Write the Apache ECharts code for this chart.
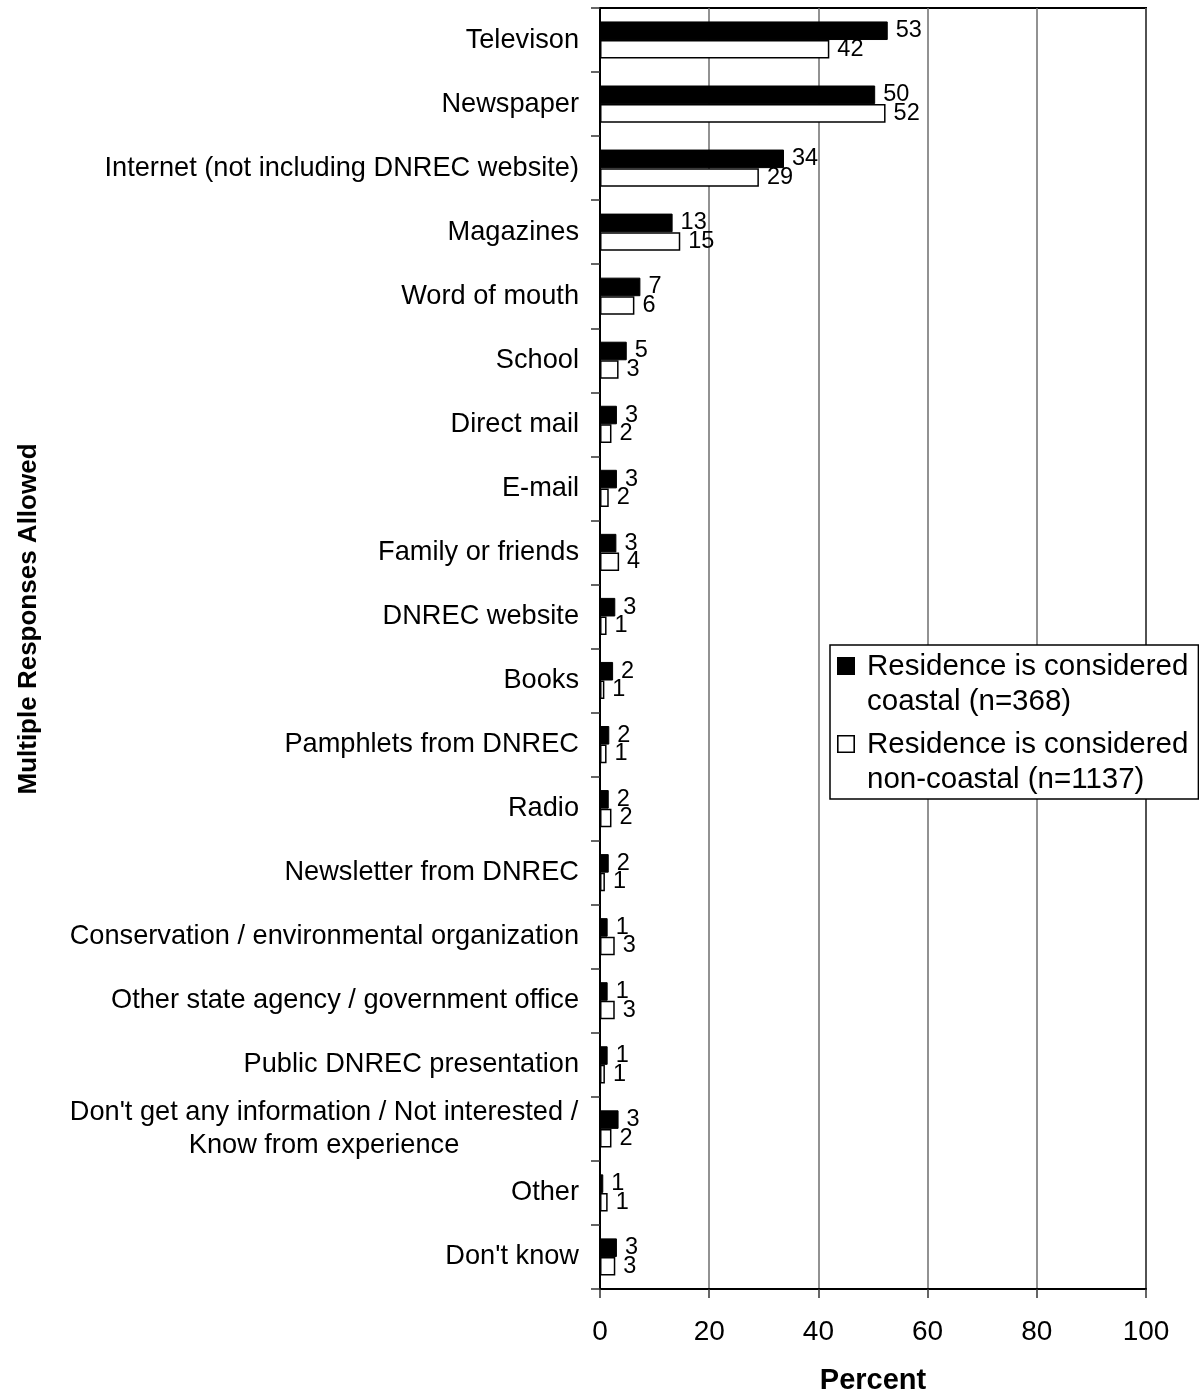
<!DOCTYPE html>
<html>
<head>
<meta charset="utf-8">
<script src="https://cdn.jsdelivr.net/npm/echarts@6/dist/echarts.min.js"></script>
<style>
  html, body { margin: 0; padding: 0; background: #fff; }
  #chart { width: 1199px; height: 1395px; }
</style>
</head>
<body>
<div id="chart"></div>
<script>
const categories = [
  "Televison",
  "Newspaper",
  "Internet (not including DNREC website)",
  "Magazines",
  "Word of mouth",
  "School",
  "Direct mail",
  "E-mail",
  "Family or friends",
  "DNREC website",
  "Books",
  "Pamphlets from DNREC",
  "Radio",
  "Newsletter from DNREC",
  "Conservation / environmental organization",
  "Other state agency / government office",
  "Public DNREC presentation",
  "Don't get any information / Not interested /\nKnow from experience",
  "Other",
  "Don't know"
];

// percent (labels are the rounded values)
const coastal = [52.7, 50.4, 33.7, 13.3, 7.4, 4.9, 3.1, 3.1, 3.0, 2.8, 2.4, 1.7, 1.6, 1.6, 1.4, 1.4, 1.4, 3.4, 0.6, 3.1];
const nonCoastal = [42.0, 52.3, 29.1, 14.7, 6.3, 3.4, 2.1, 1.6, 3.5, 1.2, 0.8, 1.2, 2.1, 0.9, 2.7, 2.7, 0.9, 2.1, 1.4, 2.8];

const seriesNames = [
  "Residence is considered\ncoastal (n=368)",
  "Residence is considered\nnon-coastal (n=1137)"
];

const xTicks = [0, 20, 40, 60, 80, 100];

const font = '"Liberation Sans", Arial, Helvetica, sans-serif';

// legend squares sit on the first text line (tiny corner points stretch the box)
const iconFilled = "path://M0,8H18V26H0Z M0,0H0.01V0.01H0Z M0,69.99H0.01V70H0Z";
const iconHollow = "path://M0,8H18V26H0Z M1.6,9.6V24.4H16.4V9.6Z M0,0H0.01V0.01H0Z M0,69.99H0.01V70H0Z";

var chart = echarts.init(document.getElementById("chart"));

const barLabel = {
  show: true,
  position: "right",
  distance: 8,
  color: "#000",
  fontSize: 23.5,
  fontFamily: font,
  formatter: function (p) { return Math.round(p.value); }
};

var option = {
  animation: false,
  backgroundColor: "#fff",
  textStyle: { fontFamily: font },
  grid: {
    left: 600,
    right: 53,
    top: 8,
    bottom: 106,
    containLabel: false,
    outerBoundsMode: "none",
    show: true,
    borderColor: "#000",
    borderWidth: 2,
    backgroundColor: "transparent"
  },
  legend: {
    orient: "vertical",
    left: 830,
    top: 645,
    padding: [4, 10, 2, 7],
    itemGap: 8,
    itemWidth: 18,
    itemHeight: 70,
    borderColor: "#000",
    borderWidth: 1.5,
    backgroundColor: "#fff",
    textStyle: {
      fontSize: 29.5,
      lineHeight: 35,
      color: "#000",
      fontFamily: font,
      padding: [0, 0, 0, 7]
    },
    data: [
      { name: seriesNames[0], icon: iconFilled, itemStyle: { color: "#000", borderWidth: 0 } },
      { name: seriesNames[1], icon: iconHollow, itemStyle: { color: "#000", borderWidth: 0 } }
    ]
  },
  xAxis: {
    type: "value",
    min: xTicks[0],
    max: xTicks[xTicks.length - 1],
    interval: 20,
    name: "Percent",
    nameLocation: "middle",
    nameGap: 77,
    nameTextStyle: { fontSize: 29, fontWeight: "bold", color: "#000", fontFamily: font },
    axisLine: { show: true, lineStyle: { color: "#000", width: 2 } },
    axisTick: { show: true, length: 9, lineStyle: { color: "#333", width: 1.5 } },
    axisLabel: { fontSize: 28, color: "#000", margin: 29, fontFamily: font },
    splitLine: { show: true, lineStyle: { color: "#6e6e6e", width: 1.5 } }
  },
  yAxis: {
    type: "category",
    inverse: true,
    data: categories,
    axisLine: { show: true, lineStyle: { color: "#000", width: 2 } },
    axisTick: { show: true, length: 9, lineStyle: { color: "#333", width: 1.5 } },
    axisLabel: {
      interval: 0,
      fontSize: 27.2,
      color: "#000",
      margin: 21,
      fontFamily: font,
      lineHeight: 33,
      formatter: function (v) {
        if (v.indexOf("\n") < 0) return v;
        return v.split("\n").map(function (s) { return "{c|" + s + "}"; }).join("\n");
      },
      rich: {
        c: { width: 510, align: "center", fontSize: 27.2, lineHeight: 33, color: "#000", fontFamily: font }
      }
    },
    splitLine: { show: false }
  },
  graphic: [
    {
      type: "text",
      x: 29,
      y: 619,
      rotation: Math.PI / 2,
      style: {
        text: "Multiple Responses Allowed",
        fontSize: 26,
        fontWeight: "bold",
        fontFamily: font,
        fill: "#000",
        align: "center",
        verticalAlign: "middle"
      }
    }
  ],
  series: [
    {
      type: "bar",
      name: seriesNames[0],
      data: coastal,
      barGap: "0%",
      barCategoryGap: "42%",
      itemStyle: { color: "#000", borderColor: "#000", borderWidth: 1 },
      label: barLabel
    },
    {
      type: "bar",
      name: seriesNames[1],
      data: nonCoastal,
      itemStyle: { color: "#fff", borderColor: "#000", borderWidth: 1.5 },
      label: barLabel
    }
  ]
};

chart.setOption(option);
</script>
</body>
</html>
